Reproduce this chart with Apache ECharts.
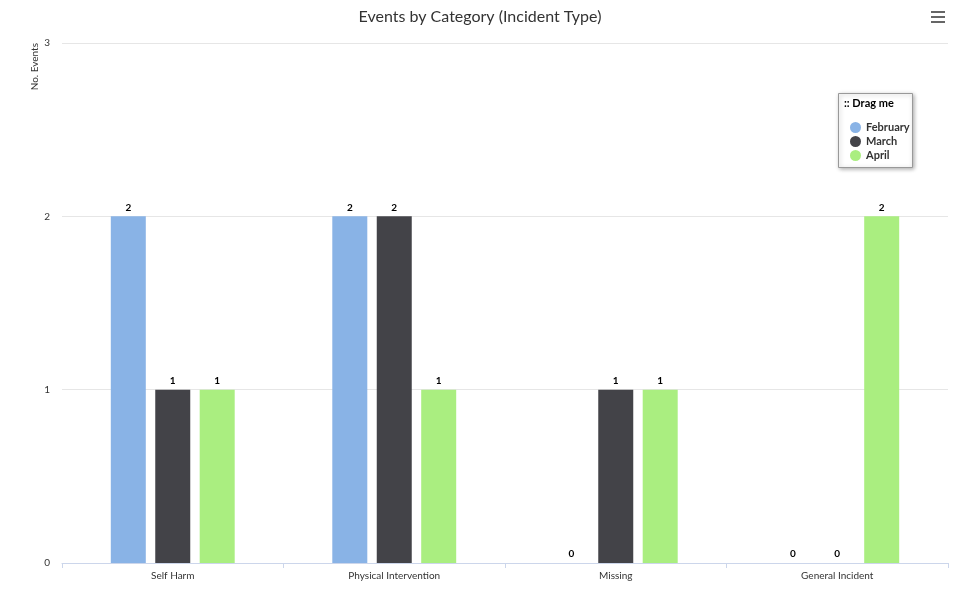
<!DOCTYPE html>
<html><head><meta charset="utf-8">
<script src="https://cdn.jsdelivr.net/npm/echarts@6/dist/echarts.min.js"></script>
<style>html,body{margin:0;padding:0;background:#fff}#c{width:960px;height:616px}</style>
</head><body><div id="c"></div>
<script>
const categories = ['Self Harm','Physical Intervention','Missing','General Incident'];
const february = [2,2,0,0];
const march = [1,2,1,0];
const april = [1,1,1,2];
const yTicks = [0,1,2,3];
const colors = ['#89b3e6','#434348','#aaee80'];
const lbl = {show:true,position:'top',fontSize:10,fontWeight:'bold',color:'#000',fontFamily:'Lato',distance:4,
  textBorderColor:'#fff',textBorderWidth:2};
function s(name,data,i){return {name,type:'bar',data,barWidth:35,barGap:'27%',itemStyle:{color:colors[i]},label:lbl};}
const chart = echarts.init(document.getElementById('c'));
chart.setOption({
  animation:false,
  textStyle:{fontFamily:'Lato'},
  title:{text:'Events by Category (Incident Type)',left:'center',top:4,textStyle:{fontSize:16,fontWeight:'normal',color:'#333',fontFamily:'Lato'}},
  grid:{left:62,right:12,top:43,bottom:53},
  xAxis:{type:'category',data:categories,axisLine:{lineStyle:{color:'#ccd6eb'}},axisTick:{show:true,lineStyle:{color:'#ccd6eb'}},
    axisLabel:{fontSize:10,color:'#333',margin:8}},
  yAxis:{type:'value',min:0,max:3,interval:1,name:'No. Events',nameLocation:'end',nameRotate:90,nameGap:0,
    nameTextStyle:{fontSize:10,color:'#333',align:'right',verticalAlign:'bottom',padding:[0,0,22,0]},
    axisLabel:{fontSize:10,color:'#333',margin:12,formatter:v=>yTicks.includes(v)?String(v):''},
    splitLine:{lineStyle:{color:'#e6e6e6'}}},
  legend:{orient:'vertical',left:845,top:117,itemGap:3,itemWidth:11,itemHeight:11,icon:'circle',
    textStyle:{fontSize:11,fontWeight:'bold',color:'#333'}},
  graphic:[
    {type:'rect',left:838,top:93,shape:{width:74,height:74},style:{fill:'#fff',stroke:'#999',lineWidth:1,shadowBlur:4,shadowColor:'rgba(0,0,0,0.3)',shadowOffsetX:1,shadowOffsetY:1},z:0},
    {type:'text',left:844,top:98,style:{text:':: Drag me',fontSize:11,fontWeight:'bold',fill:'#000',fontFamily:'Lato'},z:1},
    {type:'rect',left:931,top:11,shape:{width:14,height:2},style:{fill:'#666'}},
    {type:'rect',left:931,top:16,shape:{width:14,height:2},style:{fill:'#666'}},
    {type:'rect',left:931,top:21,shape:{width:14,height:2},style:{fill:'#666'}}
  ],
  series:[s('February',february,0),s('March',march,1),s('April',april,2)]
});
</script></body></html>
